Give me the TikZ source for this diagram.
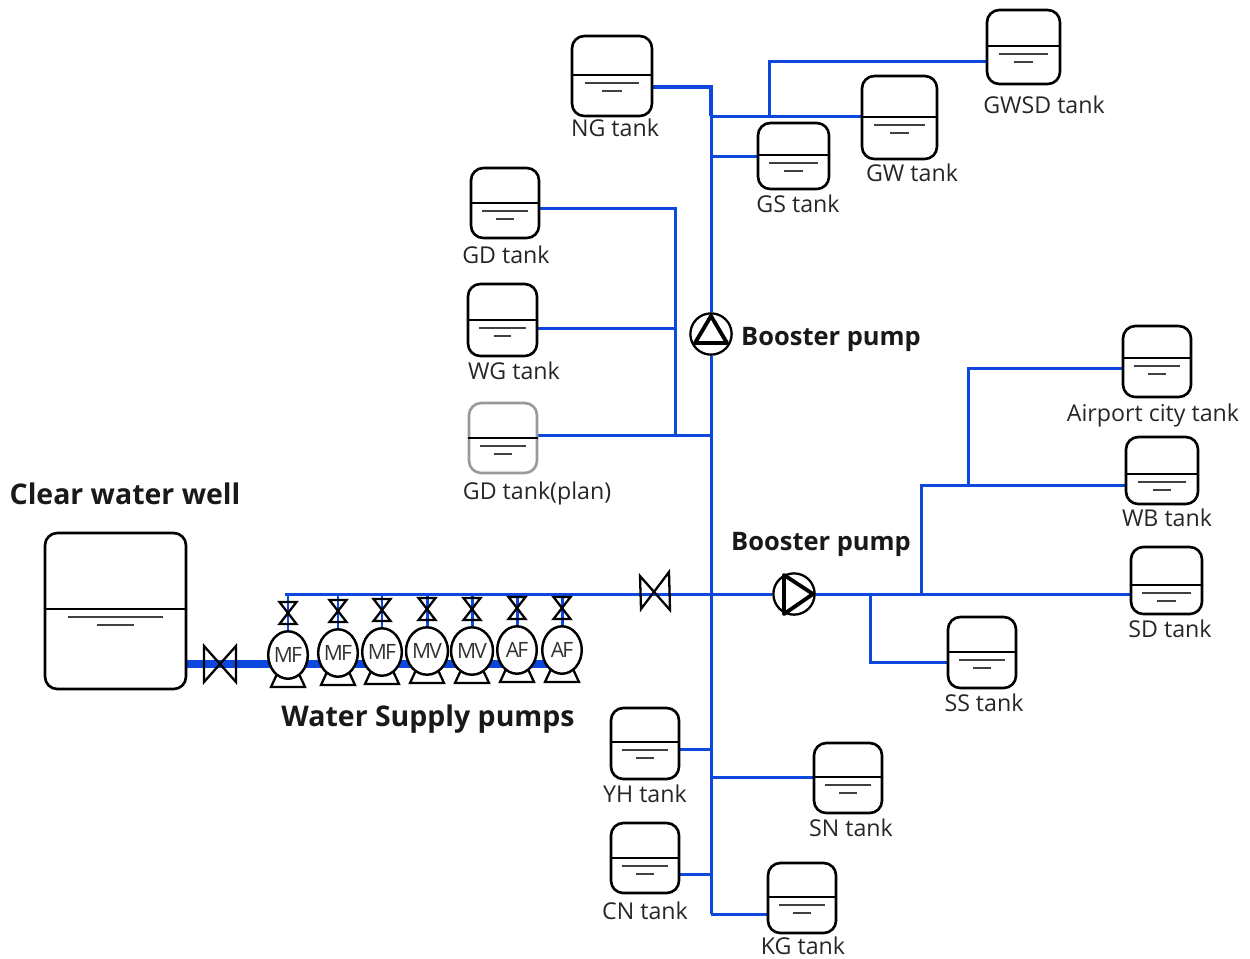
\documentclass[tikz,border=0pt]{standalone}
\usepackage{fontspec}
\setmainfont{Open Sans}
\newfontfamily\pumpfont[LetterSpace=-9]{Open Sans}
\usetikzlibrary{backgrounds,shapes.geometric}
\definecolor{pipeblue}{RGB}{12,72,222}
\tikzset{
  pipe/.style={draw=pipeblue,line width=1.7pt},
  mainpipe/.style={draw=pipeblue,line width=4.2pt},
  tankbox/.style={draw=black,line width=1.5pt,rounded corners=7pt,inner sep=0pt},
  levelline/.style={draw=black!75,line width=0.6pt},
  label/.style={font=\fontsize{13.2}{15}\selectfont,text=black!85,inner sep=0pt},
  biglabel/.style={font=\fontsize{16.2}{18}\selectfont\bfseries,text=black!90,inner sep=0pt},
  pumplabel/.style={font=\fontsize{14.5}{17}\selectfont\bfseries,text=black!90,inner sep=0pt},
  pumpcircle/.style={circle,draw=black,fill=white,line width=1.3pt,minimum size=23.5pt,inner sep=0pt},
  valveline/.style={draw=black,line width=1.3pt,line join=miter},
  feedpump/.style={ellipse,draw=black,fill=white,line width=1.4pt,minimum width=22.5pt,minimum height=27pt,inner sep=0pt,font=\fontsize{12}{12}\pumpfont,text=black!80},
}
% name, cx, cy, w, h, water line y, colour
\newcommand{\tank}[7]{
  \node[tankbox,draw=#7,minimum width=#4*0.02cm,minimum height=#5*0.02cm] (#1) at (#2,#3) {};
  \draw[line width=0.8pt] (#1.west |- 0,#6) -- (#1.east |- 0,#6);
  \draw[levelline] (#2-#4*0.34,#6+8) -- (#2+#4*0.34,#6+8);
  \draw[levelline] (#2-#4*0.13,#6+16) -- (#2+#4*0.13,#6+16);
}
\begin{document}
\begin{tikzpicture}[x=0.02cm,y=-0.02cm]
  \useasboundingbox (0,0) rectangle (1250,958);
  % tanks
  \tank{ng}{612}{76}{80}{80}{75}{black}
  \tank{gs}{793.5}{156}{71}{66}{155}{black}
  \tank{gw}{899.5}{117.5}{75}{83}{117}{black}
  \tank{gwsd}{1023.5}{47}{73}{74}{46}{black}
  \tank{gd}{505}{203}{68}{70}{203}{black}
  \tank{wg}{502.5}{320}{69}{72}{320}{black}
  \tank{gdp}{503}{438}{68}{70}{438}{black!40}
  \tank{air}{1157}{361.5}{68}{71}{358}{black}
  \tank{wb}{1162}{470.5}{72}{67}{474}{black}
  \tank{sd}{1166.5}{580.5}{71}{67}{585}{black}
  \tank{ss}{982}{652.5}{68}{71}{652}{black}
  \tank{yh}{645}{743.5}{68}{71}{742}{black}
  \tank{sn}{848}{778}{68}{70}{777}{black}
  \tank{cn}{645}{858}{68}{70}{858}{black}
  \tank{kg}{802}{898}{68}{70}{897}{black}
  \tank{well}{115.5}{611}{141}{156}{609}{black}
  % tank labels
  \node[label] at (615,128) {NG tank};
  \node[label] at (798,204) {GS tank};
  \node[label] at (912,173) {GW tank};
  \node[label] at (1044,105) {GWSD tank};
  \node[label] at (506,255) {GD tank};
  \node[label] at (514,371) {WG tank};
  \node[label] at (537,493) {GD tank(plan)};
  \node[label] at (1153,415) {Airport city tank};
  \node[label] at (1167,518) {WB tank};
  \node[label] at (1170,629) {SD tank};
  \node[label] at (984,703) {SS tank};
  \node[label] at (645,794) {YH tank};
  \node[label] at (851,828) {SN tank};
  \node[label] at (645,911) {CN tank};
  \node[label] at (803,946) {KG tank};
  \node[biglabel] at (125,494) {Clear water well};
  \node[biglabel] at (428,719) {Water Supply pumps};
  \node[pumplabel] at (831,339) {Booster pump};
  \node[pumplabel] at (821,544) {Booster pump};
  % booster pumps
  \node[pumpcircle] (upump) at (711,334) {};
  \draw[line width=2.2pt,line join=round] (711,316) -- (727,343) -- (695,343) -- cycle;
  \node[pumpcircle] (rpump) at (794,594) {};
  \draw[line width=2.2pt,line join=round] (784,575) -- (813,594) -- (784,614) -- cycle;
  % valves
  \coordinate (wellvalve) at (220,664);
  \coordinate (linevalve) at (655,591);
  \draw[valveline,shift={(wellvalve)}] (-16,-18) -- (16,18) -- (16,-18) -- (-16,18) -- cycle;
  \draw[valveline,shift={(linevalve)}] (-15,-15) -- (15,19) -- (14,-19) -- (-14,18) -- cycle;
  % supply pumps
  \foreach \name/\x/\y/\txt in {p1/288/655/MF,p2/338/653/MF,p3/382/652/MF,p4/427/651/MV,p5/472/651/MV,p6/517/650/AF,p7/562/650/AF}{
    \draw[valveline,fill=white] (\x-11,\y+19) -- (\x-17,\y+32) -- (\x+17,\y+32) -- (\x+11,\y+19) -- cycle;
    \node[feedpump] (\name) at (\x,\y) {\txt};
    \draw[valveline] (\x-8.5,\y-53) -- (\x+8.5,\y-53) -- (\x-8.5,\y-31) -- (\x+8.5,\y-31) -- cycle;
  }
  % pipes
  \coordinate (jtop) at (711,87);
  \coordinate (jgw) at (711,116);
  \coordinate (jgs) at (711,156);
  \coordinate (jplan) at (711,435);
  \coordinate (jyh) at (711,749);
  \coordinate (jsn) at (711,777);
  \coordinate (jcn) at (711,874);
  \coordinate (jkg) at (711,914);
  \coordinate (jgwsd) at (769,116);
  \coordinate (cgwsd) at (769,61);
  \coordinate (cgd) at (675,208);
  \coordinate (cwg) at (675,328);
  \coordinate (cplan) at (675,435);
  \coordinate (jsd) at (921,594);
  \coordinate (jwb) at (921,485);
  \coordinate (jair) at (968,485);
  \coordinate (cair) at (968,368);
  \coordinate (jss) at (870,594);
  \coordinate (css) at (870,662);
  \coordinate (mleft) at (285,594);
  \begin{scope}[on background layer]
    \draw[mainpipe] (well.east |- wellvalve) -- (p7.center |- wellvalve);
    \draw[pipe,line width=2.3pt] (ng.east |- jtop) -- (jtop) -- (jgw);
    \draw[pipe] (jgw) -- (upump.north);
    \draw[pipe] (upump.south) -- (jkg);
    \draw[pipe] (jgw) -- (gw.west |- jgw);
    \draw[pipe] (jgwsd) -- (cgwsd) -- (gwsd.west |- cgwsd);
    \draw[pipe] (jgs) -- (gs.west |- jgs);
    \draw[pipe] (gd.east |- cgd) -- (cgd) -- (cplan);
    \draw[pipe] (wg.east |- cwg) -- (cwg);
    \draw[pipe] (gdp.east |- jplan) -- (jplan);
    \draw[pipe] (mleft) -- (rpump.west);
    \draw[pipe] (rpump.east) -- (sd.west |- jsd);
    \draw[pipe] (jsd) -- (jwb) -- (wb.west |- jwb);
    \draw[pipe] (jair) -- (cair) -- (air.west |- cair);
    \draw[pipe] (jss) -- (css) -- (ss.west |- css);
    \draw[pipe] (yh.east |- jyh) -- (jyh);
    \draw[pipe] (jsn) -- (sn.west |- jsn);
    \draw[pipe] (cn.east |- jcn) -- (jcn);
    \draw[pipe] (jkg) -- (kg.west |- jkg);
    \foreach \name in {p1,p2,p3,p4,p5,p6,p7}
      \draw[pipe] (\name.north |- mleft) -- (\name.north);
  \end{scope}
\end{tikzpicture}
\end{document}
